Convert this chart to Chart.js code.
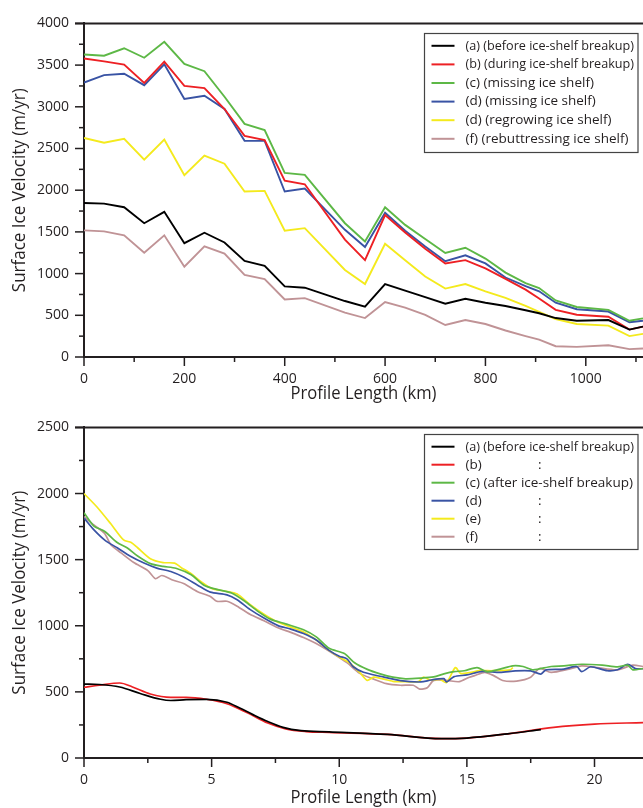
<!DOCTYPE html>
<html>
<head>
<meta charset="utf-8">
<script src="https://cdn.jsdelivr.net/npm/chart.js@4.4.0/dist/chart.umd.min.js"></script>
<style>
  html, body { margin: 0; padding: 0; background: #fff; overflow: hidden; }
  .panel { position: absolute; left: 0; width: 643px; height: 404px; }
</style>
</head>
<body>
<div class="panel" style="top:0"><canvas id="topChart" width="643" height="404"></canvas></div>
<div class="panel" style="top:404px"><canvas id="bottomChart" width="643" height="404"></canvas></div>
<script>
// ---- upper panel: profile along the glacier (km, m/yr) ----
const topKm = [0, 40, 80, 120, 160, 200, 240, 280, 320, 360, 400, 440, 520, 560, 600, 640, 680, 720, 760, 800, 840, 880, 907, 940, 982, 1045, 1087, 1114];
const topA = [1847, 1839, 1796, 1604, 1741, 1365, 1490, 1373, 1153, 1094, 847, 831, 671, 604, 875, 796, 718, 639, 698, 651, 612, 561, 525, 467, 435, 443, 329, 365];
const topB = [3580, 3545, 3506, 3286, 3541, 3251, 3224, 2973, 2651, 2600, 2114, 2071, 1408, 1161, 1702, 1494, 1298, 1122, 1161, 1063, 937, 808, 702, 565, 506, 482, 329, 365];
const topC = [3627, 3612, 3702, 3588, 3780, 3514, 3427, 3121, 2796, 2721, 2208, 2184, 1604, 1384, 1796, 1584, 1415, 1247, 1310, 1180, 1012, 886, 827, 678, 600, 565, 435, 463];
const topD = [3290, 3380, 3396, 3259, 3510, 3094, 3133, 2973, 2592, 2592, 1984, 2020, 1525, 1318, 1729, 1514, 1326, 1149, 1220, 1122, 953, 850, 788, 651, 573, 545, 416, 435];
const topE = [2627, 2569, 2616, 2365, 2608, 2180, 2416, 2318, 1984, 1992, 1514, 1545, 1043, 875, 1357, 1161, 965, 820, 875, 788, 710, 612, 541, 455, 396, 376, 251, 278];
const topF = [1518, 1506, 1459, 1251, 1459, 1082, 1326, 1239, 984, 933, 690, 706, 533, 467, 659, 592, 506, 384, 443, 396, 318, 251, 208, 129, 122, 141, 94, 102];
const topLabels = ['(a) (before ice-shelf breakup)', '(b) (during ice-shelf breakup)', '(c) (missing ice shelf)', '(d) (missing ice shelf)', '(d) (regrowing ice shelf)', '(f) (rebuttressing ice shelf)'];
const topXTicks = [0, 200, 400, 600, 800, 1000];
const topYTicks = [0, 500, 1000, 1500, 2000, 2500, 3000, 3500, 4000];

// ---- lower panel: short profile (km, m/yr) ----
const botKmA = [0, 0.6, 1.4, 2.2, 3.0, 3.4, 4.0, 4.8, 5.6, 6.1, 6.6, 7.2, 7.8, 8.5, 9.6, 11.9, 14.0, 15.0, 16.6, 17.9];
const botA = [559, 556, 537, 488, 444, 435, 441, 444, 422, 378, 330, 276, 232, 207, 198, 178, 146, 151, 183, 215];
const botKmB = [0, 0.6, 1.4, 1.9, 2.6, 3.4, 4.0, 4.8, 5.6, 6.4, 7.2, 7.9, 8.7, 9.6, 11.9, 14.0, 15.0, 16.6, 18.4, 20.0, 21.9];
const botB = [535, 550, 567, 537, 484, 459, 459, 444, 410, 342, 264, 220, 200, 193, 178, 146, 151, 183, 232, 256, 268];
const botKmC = [0, 0.4, 0.8, 1.3, 1.7, 2.1, 2.6, 3.1, 3.6, 4.2, 4.7, 5.2, 5.8, 6.3, 6.8, 7.3, 7.9, 8.6, 9.1, 9.6, 10.2, 10.6, 11.1, 11.6, 12.1, 12.6, 13.2, 13.7, 14.1, 14.5, 14.9, 15.4, 15.8, 16.3, 16.8, 17.2, 17.6, 18.3, 18.8, 19.5, 20.3, 20.9, 21.3, 21.5, 21.9];
const botC = [1855, 1752, 1715, 1630, 1588, 1527, 1470, 1449, 1435, 1385, 1307, 1275, 1246, 1185, 1111, 1050, 1014, 970, 916, 830, 790, 720, 670, 636, 611, 599, 604, 613, 636, 653, 660, 684, 652, 672, 697, 692, 667, 692, 697, 709, 702, 689, 702, 667, 677];
const botKmD = [0, 0.4, 0.85, 1.3, 1.8, 2.35, 2.85, 3.4, 3.9, 4.45, 4.95, 5.6, 6.0, 6.5, 7.05, 7.6, 8.1, 8.6, 9.1, 9.6, 10.0, 10.3, 10.55, 10.95, 11.6, 12.4, 13.2, 13.6, 14.1, 14.2, 14.5, 15.0, 15.6, 16.3, 16.9, 17.5, 17.9, 18.1, 18.8, 19.3, 19.5, 19.85, 20.5, 20.9, 21.3, 21.6, 21.9];
const botD = [1815, 1723, 1642, 1590, 1527, 1474, 1436, 1410, 1368, 1307, 1254, 1234, 1197, 1124, 1058, 1001, 975, 941, 892, 814, 770, 750, 690, 648, 618, 585, 575, 590, 600, 575, 615, 628, 655, 647, 659, 659, 635, 667, 672, 692, 653, 690, 660, 667, 709, 677, 675];
const botKmE = [0, 0.5, 1.05, 1.55, 1.85, 2.1, 2.6, 3.1, 3.55, 3.8, 4.2, 4.6, 5.0, 5.5, 6.0, 6.5, 7.05, 7.6, 8.1, 8.6, 9.1, 9.6, 10.05, 10.4, 10.8, 11.1, 11.35, 11.7, 12.1, 12.6, 13.1, 13.3, 13.55, 13.95, 14.2, 14.55, 14.75, 15.1, 15.5, 16.0, 16.7, 16.8];
const botE = [2000, 1900, 1771, 1649, 1630, 1590, 1507, 1478, 1474, 1441, 1393, 1331, 1283, 1263, 1240, 1161, 1087, 1026, 990, 953, 892, 814, 757, 720, 647, 587, 611, 598, 580, 577, 577, 611, 590, 594, 570, 684, 640, 645, 660, 660, 667, 684];
const botKmF = [0, 0.4, 0.8, 1.05, 1.45, 1.95, 2.5, 2.8, 3.05, 3.5, 3.9, 4.45, 4.95, 5.2, 5.6, 6.0, 6.5, 7.05, 7.6, 8.1, 8.6, 9.2, 9.8, 10.3, 10.8, 11.3, 11.85, 12.4, 12.9, 13.15, 13.45, 13.7, 14.2, 14.7, 15.1, 15.3, 15.7, 16.05, 16.4, 16.95, 17.5, 17.85, 18.3, 19.0, 19.5, 20.1, 20.9, 21.5, 21.9];
const botF = [1825, 1760, 1700, 1613, 1551, 1478, 1417, 1356, 1380, 1344, 1320, 1258, 1221, 1185, 1185, 1148, 1087, 1038, 985, 950, 911, 855, 785, 721, 640, 600, 562, 550, 550, 521, 531, 587, 587, 577, 611, 623, 648, 623, 586, 582, 611, 677, 647, 672, 697, 684, 667, 702, 692];
const botLabels = ['(a) (before ice-shelf breakup)', '(b)', '(c) (after ice-shelf breakup)', '(d)', '(e)', '(f)'];
const botDitto = [false, true, false, true, true, true];
const botXTicks = [0, 5, 10, 15, 20];
const botYTicks = [0, 500, 1000, 1500, 2000, 2500];

const xTitle = 'Profile Length (km)';
const yTitle = 'Surface Ice Velocity (m/yr)';

const colors = ['#000000', '#ed2024', '#5db846', '#3953a4', '#f4ea1d', '#c09396'];
const ink = '#231f20';
const font = "'Open Sans', 'Noto Sans', sans-serif";

function pts(xs, ys) {
    return xs.map((x, i) => ({ x: x, y: ys[i] }));
}

// Rahmen oben, Striche nach aussen, Achsentitel (schmal gesetzt)
const axisDecor = {
    id: 'axisDecor',
    afterDraw(chart, args, opts) {
        const ctx = chart.ctx;
        const a = chart.chartArea;
        const xs = chart.scales.x;
        const ys = chart.scales.y;
        ctx.save();
        ctx.strokeStyle = ink;
        ctx.lineWidth = 2;
        ctx.beginPath();
        ctx.moveTo(a.left - 9, a.top);
        ctx.lineTo(a.right, a.top);
        ctx.stroke();
        ctx.lineWidth = 1.5;
        for (let i = 0; xs.min + i * opts.xMinor <= xs.max + 1e-9; i++) {
            const px = xs.getPixelForValue(xs.min + i * opts.xMinor);
            const len = i % 2 === 0 ? 9 : 5;
            ctx.beginPath();
            ctx.moveTo(px, a.bottom);
            ctx.lineTo(px, a.bottom + len);
            ctx.stroke();
        }
        for (let i = 0; ys.min + i * opts.yMinor <= ys.max + 1e-9; i++) {
            const py = ys.getPixelForValue(ys.min + i * opts.yMinor);
            const len = i % 2 === 0 ? 9 : 5;
            ctx.beginPath();
            ctx.moveTo(a.left, py);
            ctx.lineTo(a.left - len, py);
            ctx.stroke();
        }
        // Titel
        ctx.fillStyle = ink;
        ctx.font = '18px ' + font;
        ctx.textAlign = 'center';
        ctx.textBaseline = 'middle';
        ctx.fillText(xTitle, (a.left + a.right) / 2, chart.height - 10, 146);
        ctx.translate(20, (a.top + a.bottom) / 2);
        ctx.rotate(-Math.PI / 2);
        ctx.fillText(yTitle, 0, 0, 204);
        ctx.restore();
    }
};

// Legende im Kasten
const boxLegend = {
    id: 'boxLegend',
    afterDraw(chart, args, opts) {
        const ctx = chart.ctx;
        const b = opts.box;
        ctx.save();
        ctx.fillStyle = '#fff';
        ctx.fillRect(b.x, b.y, b.w, b.h);
        ctx.strokeStyle = '#444';
        ctx.lineWidth = 1.2;
        ctx.strokeRect(b.x, b.y, b.w, b.h);
        ctx.font = '13.5px ' + font;
        ctx.textBaseline = 'middle';
        ctx.fillStyle = ink;
        chart.data.datasets.forEach((ds, i) => {
            const y = b.y + opts.first + i * opts.step;
            ctx.strokeStyle = ds.borderColor;
            ctx.lineWidth = 2;
            ctx.beginPath();
            ctx.moveTo(b.x + 7, y);
            ctx.lineTo(b.x + 30, y);
            ctx.stroke();
            ctx.fillText(ds.label, b.x + 41, y, b.w - 45);
            if (opts.ditto && opts.ditto[i]) {
                ctx.fillText(':', opts.dittoX, y);
            }
        });
        ctx.restore();
    }
};

function baseOptions(xMax, xTicks, yMax, yTicks, padTop, xHeight) {
    return {
        responsive: false,
        animation: false,
        layout: { padding: { top: padTop, right: 0, bottom: 0, left: 0 } },
        elements: { point: { radius: 0 } },
        scales: {
            x: {
                type: 'linear',
                min: 0,
                max: xMax,
                afterBuildTicks: s => { s.ticks = xTicks.map(v => ({ value: v })); },
                afterFit: s => { s.height = xHeight; },
                grid: { display: false, drawTicks: false },
                border: { display: true, color: ink, width: 2 },
                ticks: { autoSkip: false, maxRotation: 0, padding: 14, color: ink, font: { family: font, size: 14 }, callback: v => String(v) },
                title: { display: false }
            },
            y: {
                min: 0,
                max: yMax,
                afterBuildTicks: s => { s.ticks = yTicks.map(v => ({ value: v })); },
                afterFit: s => { s.width = 84; },
                grid: { display: false, drawTicks: false },
                border: { display: true, color: ink, width: 2 },
                ticks: { autoSkip: false, padding: 15, color: ink, font: { family: font, size: 14 }, callback: v => String(v) },
                title: { display: false }
            }
        },
        plugins: {
            legend: { display: false },
            tooltip: { enabled: false }
        }
    };
}

// oberes Diagramm
const topSeries = [topA, topB, topC, topD, topE, topF];
const topOpts = baseOptions(1114, topXTicks, 4000, topYTicks, 17, 47);
topOpts.plugins.axisDecor = { xMinor: 100, yMinor: 250 };
topOpts.plugins.boxLegend = { box: { x: 424.5, y: 33.5, w: 213.5, h: 119 }, first: 12.3, step: 18.6 };
new Chart(document.getElementById('topChart'), {
    type: 'line',
    data: {
        datasets: topSeries.map((s, i) => ({
            label: topLabels[i],
            data: pts(topKm, s),
            borderColor: colors[i],
            borderWidth: 1.9,
            tension: 0,
            fill: false
        }))
    },
    options: topOpts,
    plugins: [axisDecor, boxLegend]
});

// unteres Diagramm
const botSeries = [[botKmA, botA], [botKmB, botB], [botKmC, botC], [botKmD, botD], [botKmE, botE], [botKmF, botF]];
const botOpts = baseOptions(21.9, botXTicks, 2500, botYTicks, 13, 50);
botOpts.plugins.axisDecor = { xMinor: 2.5, yMinor: 250 };
botOpts.plugins.boxLegend = { box: { x: 424.5, y: 30.5, w: 213.5, h: 115 }, first: 12.2, step: 18, ditto: botDitto, dittoX: 538 };
new Chart(document.getElementById('bottomChart'), {
    type: 'line',
    data: {
        datasets: botSeries.map((s, i) => ({
            label: botLabels[i],
            data: pts(s[0], s[1]),
            borderColor: colors[i],
            borderWidth: 1.7,
            cubicInterpolationMode: i < 2 ? 'monotone' : 'default',
            tension: i < 2 ? 0.4 : 0.25,
            fill: false
        }))
    },
    options: botOpts,
    plugins: [axisDecor, boxLegend]
});
</script>
</body>
</html>
